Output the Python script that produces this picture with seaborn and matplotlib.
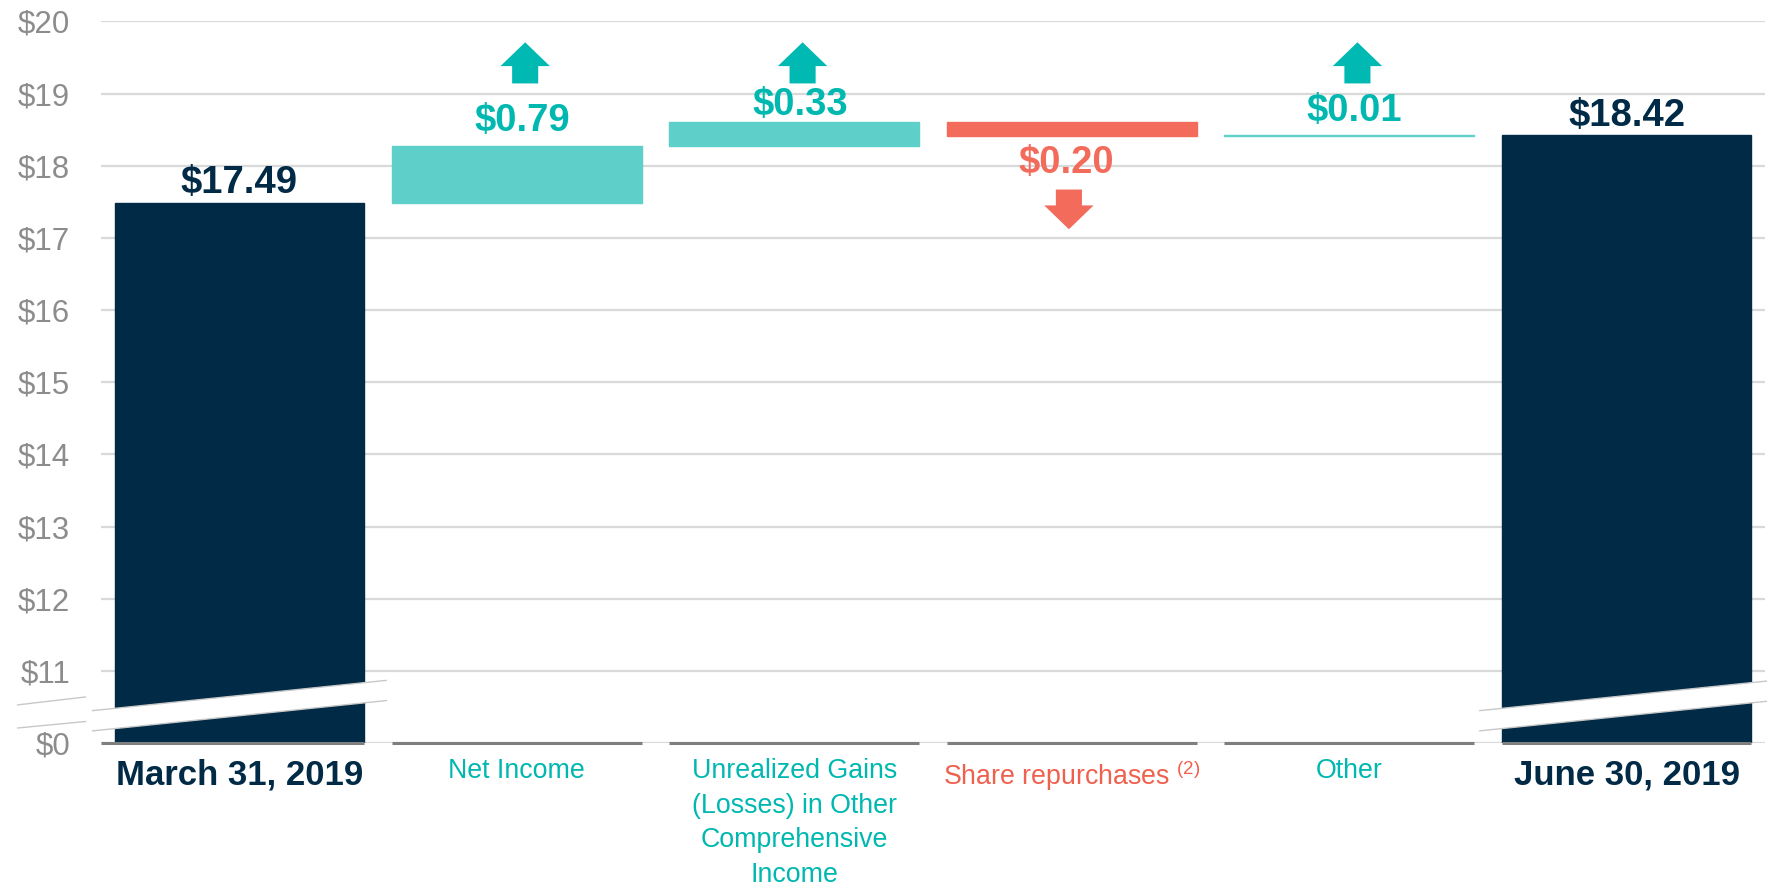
import numpy as np
import seaborn as sns
import matplotlib.pyplot as plt
import matplotlib.transforms as mtransforms

categories = ["March 31, 2019", "Net Income",
              "Unrealized Gains\n(Losses) in Other\nComprehensive\nIncome",
              "Share repurchases $^{(2)}$", "Other", "June 30, 2019"]
values = [17.49, 0.79, 0.33, -0.20, 0.01, 18.42]
kinds = ["total", "delta", "delta", "delta", "delta", "total"]
ytick_values = [10, 11, 12, 13, 14, 15, 16, 17, 18, 19, 20]
ytick_labels = ["$0", "$11", "$12", "$13", "$14", "$15", "$16", "$17", "$18", "$19", "$20"]

FLOOR = 10  # axis is broken: "$0" sits where 10 would be
NAVY = "#002A46"
TEAL_BAR = "#5ECFC9"
TEAL = "#00B8B0"
RED_BAR = "#F26B5B"
RED = "#F0604F"
UP_ARROW_BASE = 19.14
DOWN_ARROW_TOP = 17.67

# waterfall bottoms / heights
bottoms, heights, colors = [], [], []
running = 0
for v, k in zip(values, kinds):
    if k == "total":
        running = v
        bottoms.append(FLOOR)
        heights.append(v - FLOOR)
        colors.append(NAVY)
    else:
        bottoms.append(min(running, running + v))
        heights.append(abs(v))
        running += v
        colors.append(TEAL_BAR if v >= 0 else RED_BAR)

sns.set_style("white")
plt.rcParams["font.family"] = ["Liberation Sans", "DejaVu Sans"]
plt.rcParams["mathtext.fontset"] = "custom"
plt.rcParams["mathtext.rm"] = "Liberation Sans"

fig = plt.figure(figsize=(17.67, 8.9), dpi=100)
ax = fig.add_axes([0.057, 0.165, 0.942, 0.811])

sns.barplot(x=categories, y=heights, bottom=bottoms, width=0.9, color=NAVY,
            saturation=1, errorbar=None, ax=ax, zorder=2)
for p, c in zip(ax.patches, colors):
    p.set_facecolor(c)
    p.set_edgecolor(c)
    p.set_linewidth(1)

ax.set_xlim(-0.5, 5.5)
ax.set_ylim(FLOOR, 20)
ax.set_yticks(ytick_values)
ax.set_yticklabels(ytick_labels)
ax.grid(axis="y", color="#D9D9D9", lw=1.6, zorder=0)
ax.set_axisbelow(True)
for s in ax.spines.values():
    s.set_visible(False)
ax.tick_params(axis="y", length=0, pad=22, labelsize=22.5, labelcolor="#8C8C8C")
ax.tick_params(axis="x", length=0, pad=11)

# baseline segments under each bar
for i in range(len(categories)):
    left = -0.5 if i == 0 else i - 0.45
    ax.hlines(FLOOR, left, i + 0.45, color="#7F7F7F", lw=2.2, zorder=3, clip_on=False)

# category labels
for i, lab in enumerate(ax.get_xticklabels()):
    if kinds[i] == "total":
        lab.set_color(NAVY)
        lab.set_fontweight("bold")
        lab.set_fontsize(25)
    else:
        lab.set_color(RED if values[i] < 0 else TEAL)
        lab.set_fontsize(19.3)
        lab.set_linespacing(1.42)
    lab.set_verticalalignment("top")

# value labels and arrows
running = 0
for i, (v, k) in enumerate(zip(values, kinds)):
    txt = "\\$%.2f" % abs(v)
    if k == "total":
        running = v
        ax.text(i, v + 0.27, txt, ha="center", va="center", fontsize=27.5,
                fontweight="bold", color=NAVY, zorder=5)
        continue
    top = max(running, running + v)
    low = min(running, running + v)
    running += v
    if v >= 0:
        ly = min(top + 0.34, UP_ARROW_BASE - 0.3)
        ax.text(i + 0.02, ly, txt, ha="center", va="center", fontsize=27.5,
                fontweight="bold", color=TEAL, zorder=5)
        ax.arrow(i + 0.03, UP_ARROW_BASE, 0, 0.57, width=0.094, head_width=0.178,
                 head_length=0.33, length_includes_head=True, color="#00B9B2",
                 lw=0, zorder=5)
    else:
        ax.text(i - 0.02, low - 0.37, txt, ha="center", va="center", fontsize=27.5,
                fontweight="bold", color=RED_BAR, zorder=5)
        ax.arrow(i - 0.01, DOWN_ARROW_TOP, 0, -0.55, width=0.094, head_width=0.178,
                 head_length=0.33, length_includes_head=True, color=RED_BAR,
                 lw=0, zorder=5)

# axis break bands across the total bars
def draw_break(xc):
    x0, x1 = xc - 0.53, xc + 0.53
    b0, b1 = FLOOR + 0.17, FLOOR + 0.59
    t = 0.28
    ax.fill([x0, x1, x1, x0], [b0, b1, b1 + t, b0 + t], color="white",
            lw=0, zorder=4, clip_on=False)
    for off in (0, t):
        ax.plot([x0, x1], [b0 + off, b1 + off], color="#C8C8C8", lw=1,
                zorder=5, clip_on=False)

for i, k in enumerate(kinds):
    if k == "total":
        draw_break(i)

trans = mtransforms.blended_transform_factory(ax.transAxes, ax.transData)
for y0, y1 in ((FLOOR + 0.53, FLOOR + 0.64), (FLOOR + 0.21, FLOOR + 0.30)):
    ax.plot([-0.05, -0.009], [y0, y1], color="#C8C8C8", lw=1,
            transform=trans, clip_on=False)

fig.savefig("out.png", dpi=100)
